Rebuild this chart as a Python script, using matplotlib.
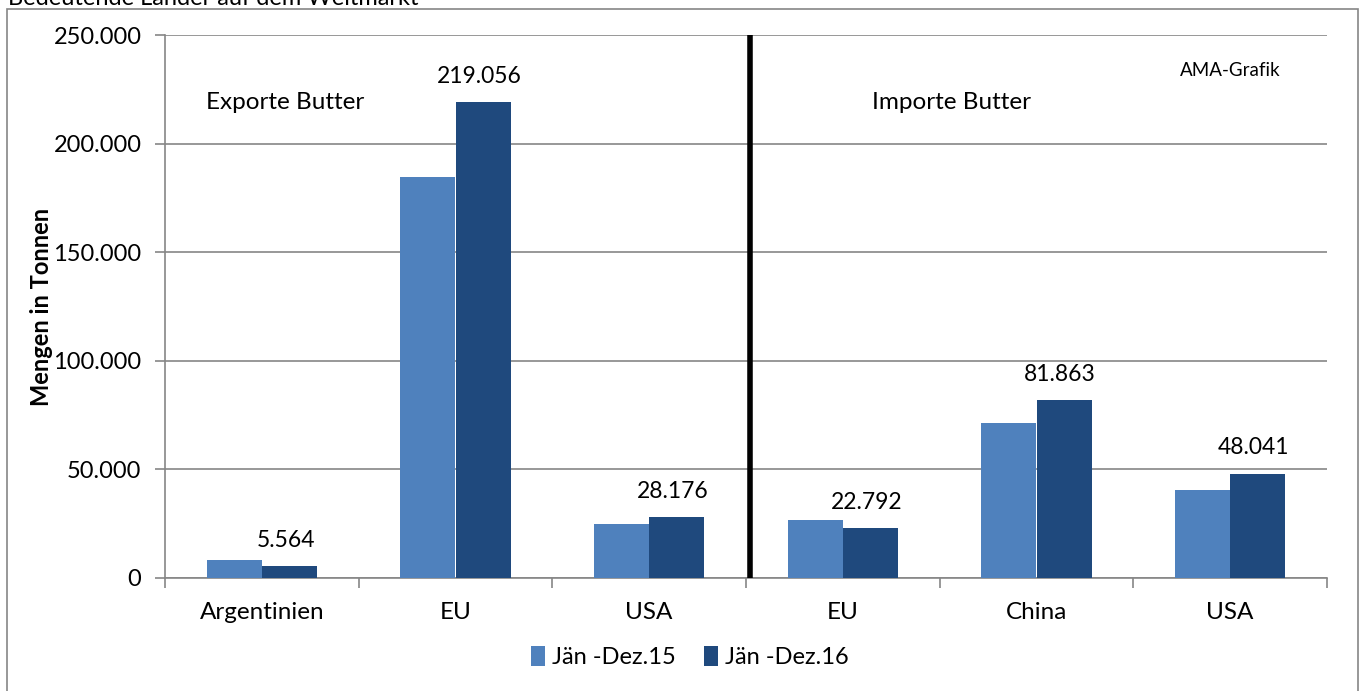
import matplotlib
matplotlib.use('Agg')
import matplotlib.pyplot as plt
import matplotlib.patches as patches
import numpy as np

categories = ['Argentinien', 'EU', 'USA', 'EU', 'China', 'USA']
series_names = ['Jän -Dez.15', 'Jän -Dez.16']
values_15 = [8300, 184500, 24800, 26700, 71400, 40500]
values_16 = [5564, 219056, 28176, 22792, 81863, 48041]
yticks = [0, 50000, 100000, 150000, 200000, 250000]

c15 = '#4F81BD'
c16 = '#1F497D'
grid_c = '#868686'
font = ['Lato', 'DejaVu Sans']
plt.rcParams['font.family'] = font


def de_fmt(v):
    return f"{v:,.0f}".replace(',', '.')


fig = plt.figure(figsize=(13.65, 6.91), dpi=100)
ax = fig.add_axes([165 / 1365, 1 - 578 / 691, 1162 / 1365, 543 / 691])

# outer chart border
fig.patches.append(patches.Rectangle((7 / 1365, -0.05), 1351 / 1365, 1.05 - 9 / 691,
                                     transform=fig.transFigure, fill=False,
                                     edgecolor=grid_c, lw=1.2))
fig.text(8 / 1365, 1 - 5 / 691, 'Bedeutende Länder auf dem Weltmarkt',
         fontsize=17, ha='left', va='baseline', color='black')

x = np.arange(len(categories))
w = 0.285
ax.bar(x - w / 2, values_15, w, color=c15, label=series_names[0], zorder=3)
ax.bar(x + w / 2, values_16, w, color=c16, label=series_names[1], zorder=3)

for xi, v in zip(x, values_16):
    ax.annotate(de_fmt(v), (xi + w / 2 - 0.02, v), xytext=(0, 11),
                textcoords='offset points', ha='center', va='bottom',
                fontsize=16.5)

ax.set_xlim(-0.5, len(categories) - 0.5)
ax.set_ylim(0, 250000)
ax.set_yticks(yticks)
ax.set_yticklabels([de_fmt(v) for v in yticks], fontsize=17)
ax.yaxis.grid(True, color=grid_c, lw=1.2, zorder=0)
ax.set_xticks(x)
ax.set_xticklabels(categories, fontsize=17.5)
ax.set_xticks(np.arange(-0.5, len(categories)), minor=True)
ax.tick_params(axis='x', which='major', length=0, pad=17)
ax.tick_params(axis='x', which='minor', length=7, color=grid_c, width=1.2)
ax.tick_params(axis='y', length=7, color=grid_c, width=1.2, pad=10)
for s in ['top', 'right']:
    ax.spines[s].set_visible(False)
for s in ['left', 'bottom']:
    ax.spines[s].set_color(grid_c)
    ax.spines[s].set_linewidth(1.2)

ax.axvline(2.52, color='black', lw=4, zorder=4)

ax.set_ylabel('Mengen in Tonnen', fontsize=17, fontweight='bold', va='center')
ax.yaxis.set_label_coords(-0.106, 0.5)

ax.text(0.103, 0.875, 'Exporte Butter', transform=ax.transAxes,
        fontsize=17.5, ha='center', va='center')
ax.text(0.677, 0.875, 'Importe Butter', transform=ax.transAxes,
        fontsize=17.5, ha='center', va='center')
ax.text(0.917, 0.935, 'AMA-Grafik', transform=ax.transAxes,
        fontsize=13.5, ha='center', va='center')

fig.legend(loc='center', bbox_to_anchor=(690 / 1365, 1 - 657 / 691), ncol=2,
           frameon=False, fontsize=17, handlelength=0.6, handleheight=0.9,
           handletextpad=0.3, columnspacing=1.2)

plt.savefig('out.png', dpi=100)
